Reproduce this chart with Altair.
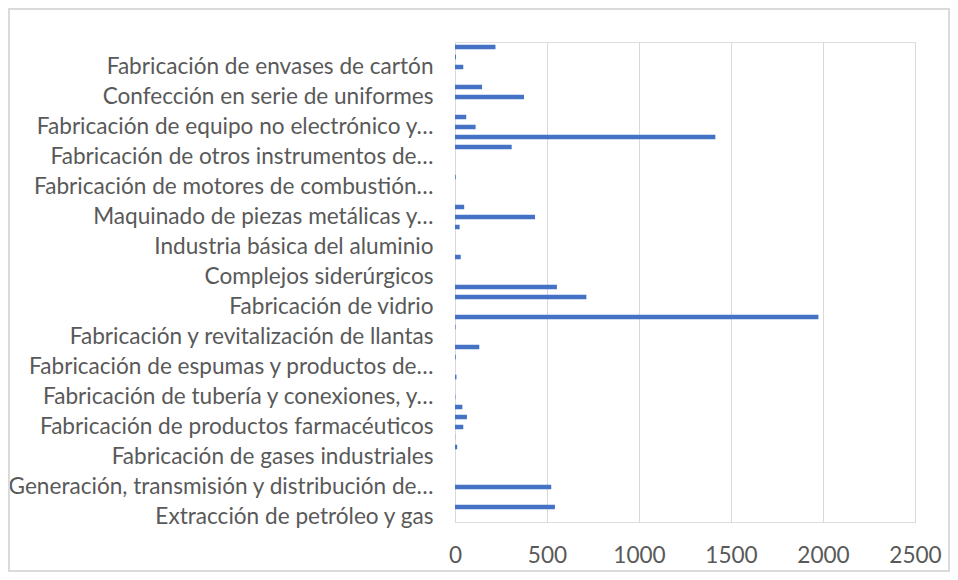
import json
import altair as alt
import pandas as pd

# 48 categories, top to bottom; only every third one carries a visible label
labels = [
    "", "", "Fabricación de envases de cartón",
    "", "", "Confección en serie de uniformes",
    "", "", "Fabricación de equipo no electrónico y…",
    "", "", "Fabricación de otros instrumentos de…",
    "", "", "Fabricación de motores de combustión…",
    "", "", "Maquinado de piezas metálicas y…",
    "", "", "Industria básica del aluminio",
    "", "", "Complejos siderúrgicos",
    "", "", "Fabricación de vidrio",
    "", "", "Fabricación y revitalización de llantas",
    "", "", "Fabricación de espumas y productos de…",
    "", "", "Fabricación de tubería y conexiones, y…",
    "", "", "Fabricación de productos farmacéuticos",
    "", "", "Fabricación de gases industriales",
    "", "", "Generación, transmisión y distribución de…",
    "", "", "Extracción de petróleo y gas",
]
values = [
    220, 5, 45,
    0, 147, 375,
    0, 61, 112,
    1415, 308, 0,
    0, 4, 0,
    0, 50, 435,
    25, 0, 0,
    31, 0, 0,
    554, 714, 0,
    1975, 3, 0,
    132, 4, 0,
    8, 0, 2,
    40, 65, 45,
    1, 12, 0,
    0, 0, 523,
    0, 543, 0,
]
x_ticks = [0, 500, 1000, 1500, 2000, 2500]

df = pd.DataFrame({"pos": list(range(len(values))), "value": values})

FONT = "Lato"
GRAY = "#595959"
GRID = "#d9d9d9"

label_expr = json.dumps(labels, ensure_ascii=False) + "[datum.value]"

bars = alt.Chart(df).mark_bar(color="#4472C4").encode(
    x=alt.X(
        "value:Q",
        scale=alt.Scale(domain=[0, 2500], nice=False),
        axis=alt.Axis(
            values=x_ticks, format="d", title=None, domain=False, ticks=False,
            grid=True, gridColor=GRID, gridWidth=1,
            labelFont=FONT, labelFontSize=22.6, labelColor=GRAY,
            labelPadding=22, labelFlush=False, labelOverlap=False,
        ),
    ),
    y=alt.Y(
        "pos:O",
        sort="ascending",
        scale=alt.Scale(paddingInner=0.55, paddingOuter=0.275),
        axis=alt.Axis(
            title=None, ticks=False, domain=True, domainColor=GRID,
            domainWidth=1, grid=False,
            labelExpr=label_expr, labelFont=FONT, labelFontSize=22.6,
            labelColor=GRAY, labelPadding=22, labelLimit=600,
        ),
    ),
)

frame = alt.Chart(df).mark_rect(filled=False, stroke=GRID, strokeWidth=1.5).encode(
    x=alt.value(-446.5), x2=alt.value(494.5), y=alt.value(-33.5), y2=alt.value(529.5)
)

chart = alt.layer(bars, frame).properties(
    width=460, height=480,
    autosize=alt.AutoSizeParams(type="none"),
    padding={"left": 447, "top": 34, "right": 35, "bottom": 50},
).configure_view(stroke=None).configure(background="white")

chart.save("out.html", embed_options={"renderer": "svg", "actions": False})
